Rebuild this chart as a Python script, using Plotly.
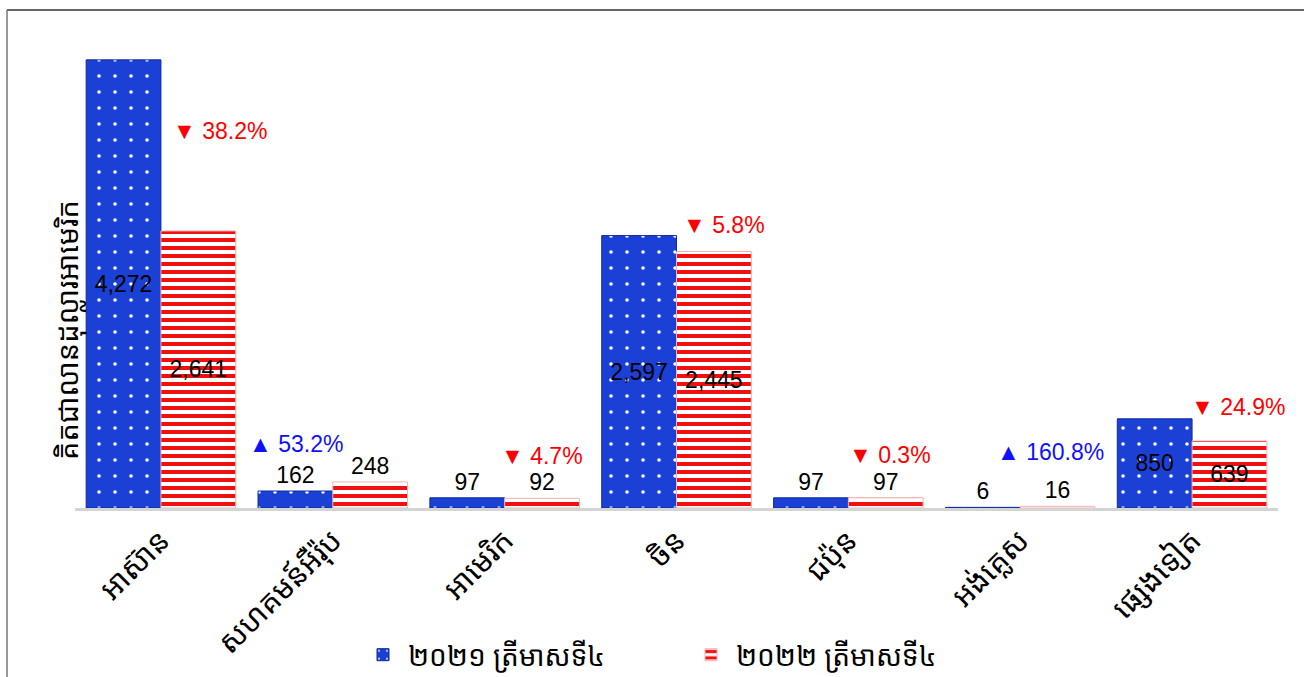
import plotly.graph_objects as go

# regions (Khmer) and the two quarters compared
regions = ['អាស៊ាន', 'សហគមន៍អឺរ៉ុប', 'អាមេរិក', 'ចិន', 'ជប៉ុន', 'អង់គ្លេស', 'ផ្សេងទៀត']
q4_2021 = [4272, 162, 97, 2597, 97, 6, 850]
q4_2022 = [2641, 248, 92, 2445, 97, 16, 639]
pct_change = [-38.2, 53.2, -4.7, -5.8, -0.3, 160.8, -24.9]

name_2021 = '២០២១ ត្រីមាសទី៤'
name_2022 = '២០២២ ត្រីមាសទី៤'
y_title = 'គិតជាលានដុល្លារអាមេរិក'

# layout helpers (pixel offsets of the % notes from category centre / red bar top)
note_offsets = [(59, 100), (-37, 38), (37, 42), (47, 27), (42, 43), (30, 54), (46, 34)]

W, H = 1304, 677
ML, MR, MT, MB = 75, 26, 36, 169
PW, PH = W - ML - MR, H - MT - MB

NUM_FONT = 'Liberation Sans Narrow, Arial Narrow, Liberation Sans, Arial'
KH_FONT = 'Khmer OS, Noto Sans Khmer, Khmer OS System, Noto Sans, DejaVu Sans'
BLUE = '#1a40d6'
RED = '#f01010'


def text_pos(vals):
    return ['inside' if v > 500 else 'outside' for v in vals]


fig = go.Figure()
fig.add_trace(go.Bar(
    x=regions, y=q4_2021, name=name_2021,
    text=[f'{v:,}' for v in q4_2021], textposition=text_pos(q4_2021),
    insidetextanchor='middle', textangle=0,
    textfont=dict(family=NUM_FONT, size=23, color='black'),
    marker=dict(color=BLUE, line=dict(color='#0c2a9a', width=1),
                pattern=dict(shape='.', fgcolor='white', bgcolor=BLUE, size=16, solidity=0.04,
                             fillmode='replace')),
    cliponaxis=False,
))
fig.add_trace(go.Bar(
    x=regions, y=q4_2022, name=name_2022,
    text=[f'{v:,}' for v in q4_2022], textposition=text_pos(q4_2022),
    insidetextanchor='middle', textangle=0,
    textfont=dict(family=NUM_FONT, size=23, color='black'),
    marker=dict(color=RED, line=dict(color='#f6b0b0', width=1),
                pattern=dict(shape='-', fgcolor=RED, bgcolor='white', size=8, solidity=0.5,
                             fillmode='replace')),
    cliponaxis=False,
))

annotations = []
for i, (reg, p) in enumerate(zip(regions, pct_change)):
    dx, dy = note_offsets[i]
    up = p > 0
    annotations.append(dict(
        x=reg, y=q4_2022[i], xref='x', yref='y', xshift=dx, yshift=dy,
        text=('▲ ' if up else '▼ ') + f'{abs(p):.1f}%',
        showarrow=False, xanchor='center', yanchor='middle',
        font=dict(family=NUM_FONT, size=23, color='#1010ff' if up else '#ff0000'),
    ))

annotations.append(dict(
    x=(45 - ML) / PW, y=(MT + PH - 330) / PH, xref='paper', yref='paper',
    text=y_title, textangle=-90, showarrow=False,
    font=dict(family=KH_FONT, size=29, color='black'),
))

fig.update_layout(
    width=W, height=H,
    margin=dict(l=ML, r=MR, t=MT, b=MB, autoexpand=False),
    paper_bgcolor='white', plot_bgcolor='white',
    barmode='group', bargap=0.13, bargroupgap=0,
    annotations=annotations,
    showlegend=True,
    legend=dict(
        orientation='h', x=(686 - ML) / PW, xanchor='center',
        y=-(655 - MT - PH) / PH, yanchor='middle',
        font=dict(family=KH_FONT, size=28, color='black'),
        itemwidth=40, entrywidth=273,
    ),
    xaxis=dict(
        tickangle=-45, tickfont=dict(family=KH_FONT, size=30, color='black'),
        showline=True, linecolor='#d4d4d4', linewidth=3, ticks='',
        showgrid=False, range=[-0.5, 6.5], automargin=False,
    ),
    yaxis=dict(
        range=[0, PH / 0.1049], visible=True, showticklabels=False,
        showgrid=False, zeroline=False, showline=False, automargin=False,
    ),
    shapes=[
        dict(type='line', xref='paper', yref='paper',
             x0=(7 - ML) / PW, x1=(W + 5 - ML) / PW,
             y0=(MT + PH - 10) / PH, y1=(MT + PH - 10) / PH,
             line=dict(color='#333333', width=1.5)),
        dict(type='line', xref='paper', yref='paper',
             x0=(7 - ML) / PW, x1=(7 - ML) / PW,
             y0=(MT + PH - 10) / PH, y1=(MT + PH - H - 5) / PH,
             line=dict(color='#777777', width=1.5)),
    ],
)

fig.write_html('out.html', config={'displayModeBar': False},
               post_script="document.body.style.margin='0';")
